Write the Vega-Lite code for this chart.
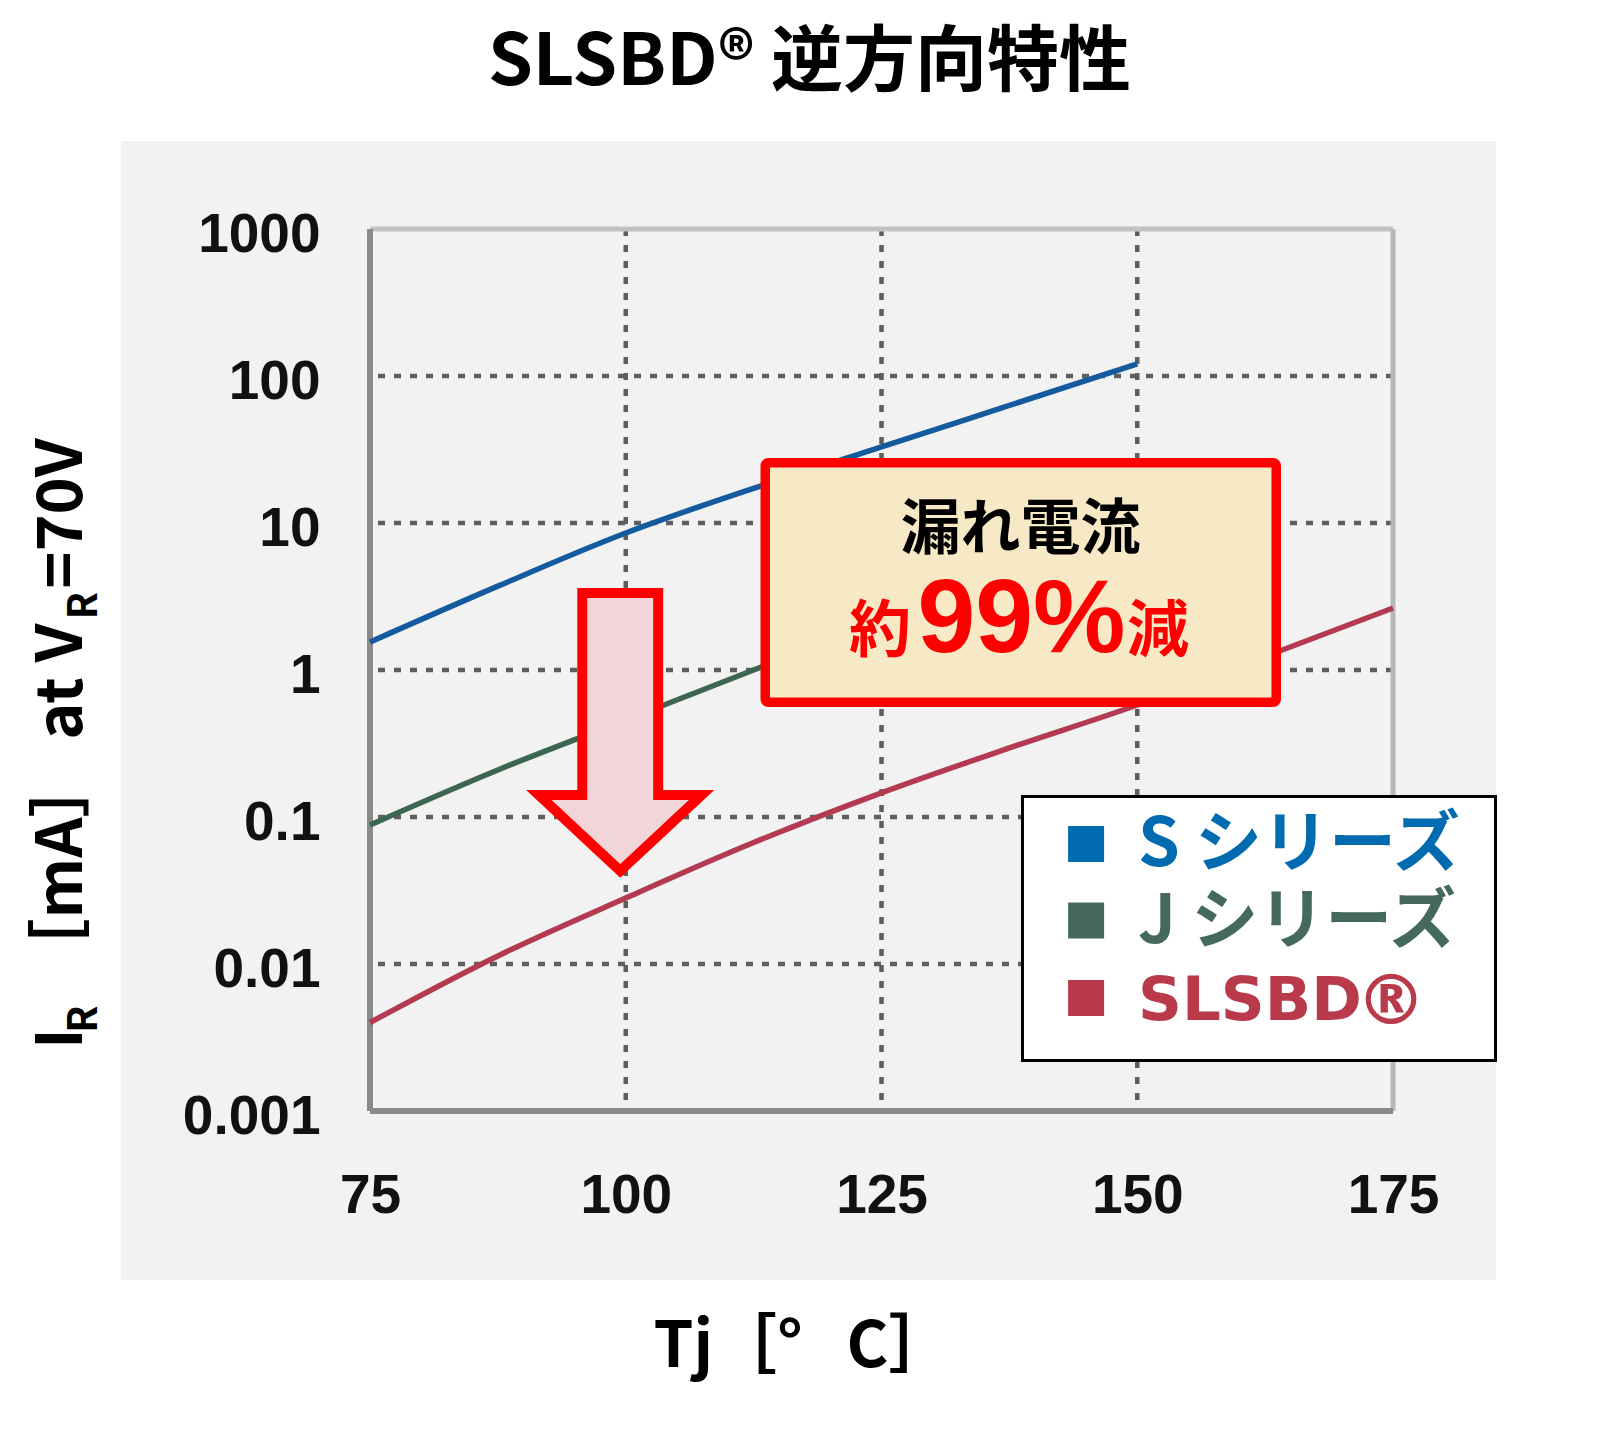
{
  "$schema": "https://vega.github.io/schema/vega-lite/v6.json",
  "width": 1023,
  "height": 882,
  "autosize": {"type": "none"},
  "padding": {"left": 370, "top": 229, "right": 205, "bottom": 318},
  "background": "white",
  "config": {"view": {"stroke": null}, "text": {"font": "Noto Sans CJK JP"}},
  "resolve": {"scale": {"color": "independent"}},
  "layer": [
    {
      "data": {"values": [{"x1": 50.66, "x2": 185.07, "y1": 3972, "y2": 0.0000708}]},
      "mark": {"type": "rect", "fill": "#f2f2f2"},
      "encoding": {
        "x": {"field": "x1", "type": "quantitative",
          "scale": {"domain": [75, 175], "nice": false, "zero": false},
          "axis": {"values": [75, 100, 125, 150, 175], "title": null, "domain": false, "ticks": false, "grid": false,
            "labelFont": "Liberation Sans", "labelFontWeight": "bold", "labelFontSize": 55, "labelColor": "#111111",
            "labelPadding": 58, "labelFlush": false, "labelOverlap": false, "zindex": 1}},
        "x2": {"field": "x2"},
        "y": {"field": "y1", "type": "quantitative",
          "scale": {"type": "log", "domain": [0.001, 1000], "nice": false},
          "axis": {"values": [0.001, 0.01, 0.1, 1, 10, 100, 1000], "format": "~g", "title": null, "domain": false, "ticks": false, "grid": false,
            "labelFont": "Liberation Sans", "labelFontWeight": "bold", "labelFontSize": 55, "labelColor": "#111111",
            "labelPadding": 50, "labelOffset": 5, "labelFlush": false, "labelOverlap": false, "zindex": 1}},
        "y2": {"field": "y2"}
      }
    },
    {
      "data": {"values": [{"v": 0.01}, {"v": 0.1}, {"v": 1}, {"v": 10}, {"v": 100}]},
      "mark": {"type": "rule", "stroke": "#5e5e5e", "strokeWidth": 4.5, "strokeDash": [7, 9]},
      "encoding": {"y": {"field": "v", "type": "quantitative"}}
    },
    {
      "data": {"values": [{"v": 100}, {"v": 125}, {"v": 150}]},
      "mark": {"type": "rule", "stroke": "#5e5e5e", "strokeWidth": 4.5, "strokeDash": [7, 9]},
      "encoding": {"x": {"field": "v", "type": "quantitative"}}
    },
    {
      "data": {"values": [{"v": 1000}]},
      "mark": {"type": "rule", "stroke": "#c2c2c2", "strokeWidth": 5},
      "encoding": {"y": {"field": "v", "type": "quantitative"}}
    },
    {
      "data": {"values": [{"v": 175}]},
      "mark": {"type": "rule", "stroke": "#b8b8b8", "strokeWidth": 5},
      "encoding": {"x": {"field": "v", "type": "quantitative"}}
    },
    {
      "data": {"values": [{"v": 75}]},
      "mark": {"type": "rule", "stroke": "#8a8a8a", "strokeWidth": 6},
      "encoding": {"x": {"field": "v", "type": "quantitative"}}
    },
    {
      "data": {"values": [{"v": 0.001}]},
      "mark": {"type": "rule", "stroke": "#8a8a8a", "strokeWidth": 6},
      "encoding": {"y": {"field": "v", "type": "quantitative"}}
    },
    {
      "data": {"values": [
        {"series": "S", "t": 75, "i": 1.55}, {"series": "S", "t": 87.5, "i": 3.72}, {"series": "S", "t": 100, "i": 8.55},
        {"series": "S", "t": 112.5, "i": 17.2}, {"series": "S", "t": 125, "i": 32.9}, {"series": "S", "t": 137.5, "i": 63.1},
        {"series": "S", "t": 150, "i": 121},
        {"series": "J", "t": 75, "i": 0.0883}, {"series": "J", "t": 87.5, "i": 0.209}, {"series": "J", "t": 100, "i": 0.457},
        {"series": "J", "t": 112.5, "i": 1.0}, {"series": "J", "t": 125, "i": 2.14}, {"series": "J", "t": 137.5, "i": 4.47},
        {"series": "J", "t": 150, "i": 9.12},
        {"series": "SLSBD", "t": 75, "i": 0.0040}, {"series": "SLSBD", "t": 87.5, "i": 0.01135}, {"series": "SLSBD", "t": 100, "i": 0.0281},
        {"series": "SLSBD", "t": 112.5, "i": 0.067}, {"series": "SLSBD", "t": 125, "i": 0.146}, {"series": "SLSBD", "t": 137.5, "i": 0.295},
        {"series": "SLSBD", "t": 150, "i": 0.578}, {"series": "SLSBD", "t": 162.5, "i": 1.236}, {"series": "SLSBD", "t": 175, "i": 2.64}
      ]},
      "mark": {"type": "line", "strokeWidth": 5.5, "interpolate": "monotone"},
      "encoding": {
        "x": {"field": "t", "type": "quantitative"},
        "y": {"field": "i", "type": "quantitative"},
        "color": {"field": "series", "type": "nominal",
          "scale": {"domain": ["S", "J", "SLSBD"], "range": ["#135a9f", "#3d6650", "#b33a50"]}, "legend": null}
      }
    },
    {
      "data": {"values": [{"t": 99.46, "i": 0.3786}]},
      "mark": {"type": "point", "filled": true, "opacity": 1, "fill": "#f2d5d9", "stroke": "#ff0000", "strokeWidth": 10,
        "strokeJoin": "miter", "size": 77284,
        "shape": "M-0.273,-1L0.273,-1L0.273,0.453L0.586,0.453L0,1L-0.586,0.453L-0.273,0.453Z"},
      "encoding": {"x": {"field": "t", "type": "quantitative"}, "y": {"field": "i", "type": "quantitative"}}
    },
    {
      "data": {"values": [{"a": 113.636, "b": 163.587, "c": 25.7, "d": 0.6034}]},
      "mark": {"type": "rect", "fill": "#f8e9c6", "stroke": "#ff0000", "strokeWidth": 9.5, "cornerRadius": 3},
      "encoding": {
        "x": {"field": "a", "type": "quantitative"}, "x2": {"field": "b"},
        "y": {"field": "c", "type": "quantitative"}, "y2": {"field": "d"}
      }
    },
    {
      "data": {"values": [{"s": "漏れ電流", "t": 138.59, "v": 6.655}]},
      "mark": {"type": "text", "fontSize": 60, "fontWeight": "bold", "color": "#000000", "align": "center", "baseline": "alphabetic"},
      "encoding": {"x": {"field": "t", "type": "quantitative"}, "y": {"field": "v", "type": "quantitative"}, "text": {"field": "s"}}
    },
    {
      "data": {"values": [{"s": "約", "t": 127.884, "v": 1.3258}]},
      "mark": {"type": "text", "fontSize": 62, "fontWeight": "bold", "color": "#ff0000", "align": "right", "baseline": "alphabetic"},
      "encoding": {"x": {"field": "t", "type": "quantitative"}, "y": {"field": "v", "type": "quantitative"}, "text": {"field": "s"}}
    },
    {
      "data": {"values": [{"s": "99%", "t": 138.685, "v": 1.3258}]},
      "mark": {"type": "text", "font": "Liberation Sans", "fontSize": 104, "fontWeight": "bold", "color": "#ff0000", "align": "center", "baseline": "alphabetic"},
      "encoding": {"x": {"field": "t", "type": "quantitative"}, "y": {"field": "v", "type": "quantitative"}, "text": {"field": "s"}}
    },
    {
      "data": {"values": [{"s": "減", "t": 149.0, "v": 1.3258}]},
      "mark": {"type": "text", "fontSize": 62, "fontWeight": "bold", "color": "#ff0000", "align": "left", "baseline": "alphabetic"},
      "encoding": {"x": {"field": "t", "type": "quantitative"}, "y": {"field": "v", "type": "quantitative"}, "text": {"field": "s"}}
    },
    {
      "data": {"values": [{"a": 138.78, "b": 185.02, "c": 0.1378, "d": 0.002207}]},
      "mark": {"type": "rect", "fill": "#ffffff", "stroke": "#000000", "strokeWidth": 3},
      "encoding": {
        "x": {"field": "a", "type": "quantitative"}, "x2": {"field": "b"},
        "y": {"field": "c", "type": "quantitative"}, "y2": {"field": "d"}
      }
    },
    {
      "data": {"values": [{"series": "S", "v": 0.0655}, {"series": "J", "v": 0.01977}, {"series": "SLSBD", "v": 0.00587}]},
      "mark": {"type": "point", "shape": "square", "filled": true, "opacity": 1, "size": 1296},
      "encoding": {
        "x": {"datum": 145.0, "type": "quantitative"},
        "y": {"field": "v", "type": "quantitative"},
        "color": {"field": "series", "type": "nominal",
          "scale": {"domain": ["S", "J", "SLSBD"], "range": ["#006bb0", "#456a5b", "#b83a4b"]}, "legend": null}
      }
    },
    {
      "data": {"values": [{"series": "S", "label": "S シリーズ", "v": 0.04645}, {"series": "J", "label": "J シリーズ", "v": 0.0139}]},
      "mark": {"type": "text", "fontSize": 67, "fontWeight": "bold", "align": "left", "baseline": "alphabetic"},
      "encoding": {
        "x": {"datum": 150.07, "type": "quantitative"},
        "y": {"field": "v", "type": "quantitative"},
        "text": {"field": "label"},
        "color": {"field": "series", "type": "nominal",
          "scale": {"domain": ["S", "J", "SLSBD"], "range": ["#006bb0", "#456a5b", "#b83a4b"]}, "legend": null}
      }
    },
    {
      "data": {"values": [{"s": "SLSBD", "t": 150.07, "v": 0.00416}]},
      "mark": {"type": "text", "font": "DejaVu Sans", "fontSize": 61, "fontWeight": "bold", "color": "#b83a4b", "align": "left", "baseline": "alphabetic"},
      "encoding": {"x": {"field": "t", "type": "quantitative"}, "y": {"field": "v", "type": "quantitative"}, "text": {"field": "s"}}
    },
    {
      "data": {"values": [{"s": "®", "t": 174.8, "v": 0.003908}]},
      "mark": {"type": "text", "font": "DejaVu Sans", "fontSize": 70, "fontWeight": "bold", "color": "#b83a4b", "align": "center", "baseline": "alphabetic"},
      "encoding": {"x": {"field": "t", "type": "quantitative"}, "y": {"field": "v", "type": "quantitative"}, "text": {"field": "s"}}
    },
    {
      "data": {"values": [{"s": "SLSBD® 逆方向特性", "t": 117.962, "v": 9541}]},
      "mark": {"type": "text", "fontSize": 72, "fontWeight": "bold", "color": "#000000", "align": "center", "baseline": "alphabetic"},
      "encoding": {"x": {"field": "t", "type": "quantitative"}, "y": {"field": "v", "type": "quantitative"}, "text": {"field": "s"}}
    },
    {
      "data": {"values": [{"s": "Tj［°\u00a0\u00a0\u00a0C］", "t": 117.33, "v": 0.00001813}]},
      "mark": {"type": "text", "fontSize": 64, "fontWeight": "bold", "color": "#000000", "align": "center", "baseline": "alphabetic"},
      "encoding": {"x": {"field": "t", "type": "quantitative"}, "y": {"field": "v", "type": "quantitative"}, "text": {"field": "s"}}
    },
    {
      "data": {"values": [
        {"s": "I", "t": 46.848, "v": 0.003113},
        {"s": "［mA］", "t": 46.848, "v": 0.04497},
        {"s": "at", "t": 46.848, "v": 0.5471},
        {"s": "V", "t": 46.848, "v": 1.526},
        {"s": "=70V", "t": 46.848, "v": 11.60}
      ]},
      "mark": {"type": "text", "fontSize": 63, "fontWeight": "bold", "color": "#000000", "align": "center", "baseline": "alphabetic", "angle": 270},
      "encoding": {"x": {"field": "t", "type": "quantitative"}, "y": {"field": "v", "type": "quantitative"}, "text": {"field": "s"}}
    },
    {
      "data": {"values": [
        {"s": "R", "t": 48.314, "v": 0.004225},
        {"s": "R", "t": 48.314, "v": 2.747}
      ]},
      "mark": {"type": "text", "fontSize": 40, "fontWeight": "bold", "color": "#000000", "align": "center", "baseline": "alphabetic", "angle": 270},
      "encoding": {"x": {"field": "t", "type": "quantitative"}, "y": {"field": "v", "type": "quantitative"}, "text": {"field": "s"}}
    }
  ]
}
